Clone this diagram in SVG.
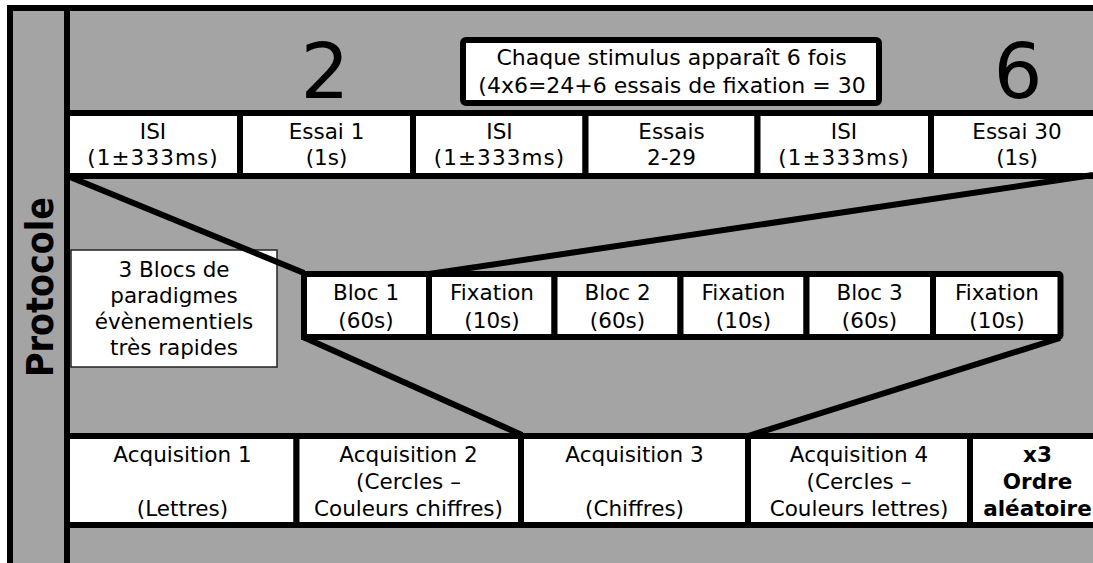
<svg xmlns="http://www.w3.org/2000/svg" width="1093" height="563" viewBox="0 0 1093 563">
<style>
text{font-family:"DejaVu Sans",Verdana,sans-serif;fill:#000}
.t{font-size:21.5px;text-anchor:middle}
.pm{letter-spacing:1.1px}
.b{font-size:21.5px;font-weight:bold;text-anchor:middle}
.big{font-size:77px;text-anchor:middle}
.cell{fill:#fff;stroke:#000;stroke-width:6}
.conn{stroke:#000;stroke-width:6;fill:none}
</style>
<rect x="0" y="0" width="1093" height="563" fill="#fff"/>
<g id="background">
<rect x="10" y="8" width="1090" height="560" fill="#a4a4a4" stroke="#000" stroke-width="6"/>
<line x1="67" y1="11" x2="67" y2="563" stroke="#000" stroke-width="6"/>
</g>
<g id="protocole">
<text transform="translate(53,287) rotate(-90)" style="font-size:37px;font-weight:bold;text-anchor:middle" textLength="180" lengthAdjust="spacingAndGlyphs">Protocole</text>
</g>
<g id="num2"><text class="big" x="325" y="98">2</text></g>
<g id="num6"><text class="big" x="1018" y="98">6</text></g>
<g id="stimulus">
<rect x="463" y="40" width="416" height="63" rx="3" class="cell"/>
<text class="t" x="671.5" y="65" style="font-size:22px">Chaque stimulus apparaît 6 fois</text>
<text class="t" x="672" y="93" style="font-size:22px">(4x6=24+6 essais de fixation = 30</text>
</g>
<g id="isi1"><rect class="cell" x="67" y="113" width="173" height="63"/><text class="t" x="153" y="139">ISI</text><text class="t pm" x="153" y="165">(1±333ms)</text></g>
<g id="essai1"><rect class="cell" x="240" y="113" width="173" height="63"/><text class="t" x="326.5" y="139">Essai 1</text><text class="t" x="326.5" y="165">(1s)</text></g>
<g id="isi2"><rect class="cell" x="413" y="113" width="172.5" height="63"/><text class="t" x="499.5" y="139">ISI</text><text class="t pm" x="499.5" y="165">(1±333ms)</text></g>
<g id="essais"><rect class="cell" x="585.5" y="113" width="172" height="63"/><text class="t" x="671.5" y="139">Essais</text><text class="t" x="671.5" y="165">2-29</text></g>
<g id="isi3"><rect class="cell" x="757.5" y="113" width="173.5" height="63"/><text class="t" x="844" y="139">ISI</text><text class="t pm" x="844" y="165">(1±333ms)</text></g>
<g id="essai30"><rect class="cell" x="931" y="113" width="180" height="63"/><text class="t" x="1017" y="139">Essai 30</text><text class="t" x="1017" y="165">(1s)</text></g>
<g id="blocs-label">
<rect x="71" y="250" width="206" height="117" fill="#fff" stroke="#222" stroke-width="1.5"/>
<text class="t" x="174" y="277">3 Blocs de</text>
<text class="t" x="174" y="303">paradigmes</text>
<text class="t" x="174" y="329">évènementiels</text>
<text class="t" x="174" y="355">très rapides</text>
</g>
<g id="bloc1"><rect class="cell" x="304" y="274" width="125" height="63"/><text class="t" x="366" y="300">Bloc 1</text><text class="t" x="366" y="328">(60s)</text></g>
<g id="fix1"><rect class="cell" x="429" y="274" width="125.5" height="63"/><text class="t" x="492" y="300">Fixation</text><text class="t" x="492" y="328">(10s)</text></g>
<g id="bloc2"><rect class="cell" x="554.5" y="274" width="126" height="63"/><text class="t" x="617.5" y="300">Bloc 2</text><text class="t" x="617.5" y="328">(60s)</text></g>
<g id="fix2"><rect class="cell" x="680.5" y="274" width="126" height="63"/><text class="t" x="743.5" y="300">Fixation</text><text class="t" x="743.5" y="328">(10s)</text></g>
<g id="bloc3"><rect class="cell" x="806.5" y="274" width="126.5" height="63"/><text class="t" x="869.5" y="300">Bloc 3</text><text class="t" x="869.5" y="328">(60s)</text></g>
<g id="fix3"><rect class="cell" x="933" y="274" width="127.5" height="63" rx="2"/><text class="t" x="997" y="300">Fixation</text><text class="t" x="997" y="328">(10s)</text></g>
<g id="acq1"><rect class="cell" x="67" y="436" width="229.5" height="89"/><text class="t" x="182.5" y="462">Acquisition 1</text><text class="t" x="182.5" y="516">(Lettres)</text></g>
<g id="acq2"><rect class="cell" x="296.5" y="436" width="224.5" height="89"/><text class="t" x="408.5" y="462">Acquisition 2</text><text class="t" x="408.5" y="489">(Cercles –</text><text class="t" x="408.5" y="516">Couleurs chiffres)</text></g>
<g id="acq3"><rect class="cell" x="521" y="436" width="227" height="89"/><text class="t" x="634.5" y="462">Acquisition 3</text><text class="t" x="634.5" y="516">(Chiffres)</text></g>
<g id="acq4"><rect class="cell" x="748" y="436" width="222" height="89"/><text class="t" x="859" y="462">Acquisition 4</text><text class="t" x="859" y="489">(Cercles –</text><text class="t" x="859" y="516">Couleurs lettres)</text></g>
<g id="ordre"><rect class="cell" x="970" y="436" width="140" height="89"/><text class="b" x="1037.5" y="462">x3</text><text class="b" x="1037.5" y="489">Ordre</text><text class="b" x="1037.5" y="516">aléatoire</text></g>
<g id="connectors">
<line class="conn" x1="70" y1="177" x2="304" y2="273"/>
<line class="conn" x1="1093" y1="175" x2="429" y2="274"/>
<line class="conn" x1="303" y1="337" x2="522" y2="435"/>
<line class="conn" x1="1060" y1="338" x2="748" y2="436"/>
</g>
</svg>
